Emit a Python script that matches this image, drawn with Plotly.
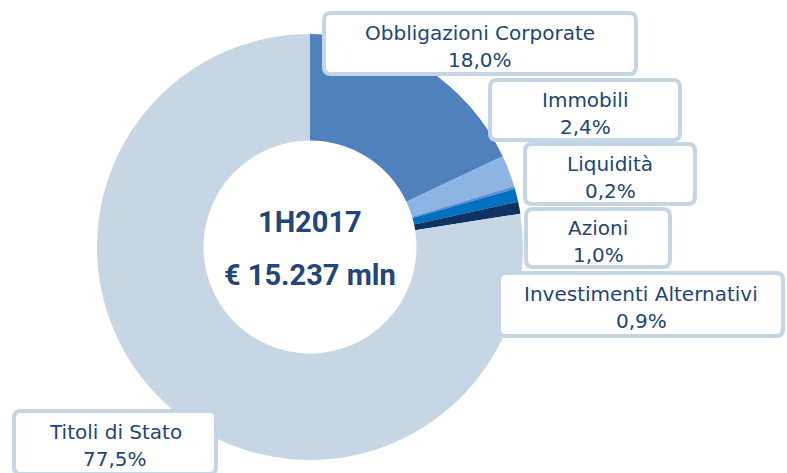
import plotly.graph_objects as go

# data (1H2017 asset allocation)
labels = ["Obbligazioni Corporate", "Immobili", "Liquidità", "Azioni",
          "Investimenti Alternativi", "Titoli di Stato"]
values = [18.0, 2.4, 0.2, 1.0, 0.9, 77.5]
colors = ["#4F81BD", "#8DB4E2", "#5E8FD3", "#0070C0", "#0E3262", "#C6D6E5"]
center_title = "1H2017"
center_total = "€ 15.237 mln"

W, H = 787, 473

# label boxes in pixels (left, top, right, bottom), one per slice
boxes = [
    (322, 11, 638, 76),
    (488, 78, 682, 142),
    (523, 142, 697, 206),
    (524, 207, 672, 269),
    (497, 271, 785, 338),
    (12, 409, 218, 476),
]

TEXT = "#22467C"
BORDER = "#C5D5E4"


def px(x):
    return x / W


def py(y):
    return 1 - y / H


def rounded_box(x0, y0, x1, y1, r=7, inset=2):
    x0, y0, x1, y1 = x0 + inset, y0 + inset, x1 - inset, y1 - inset
    p = [
        f"M {px(x0 + r)} {py(y0)}",
        f"L {px(x1 - r)} {py(y0)}",
        f"Q {px(x1)} {py(y0)} {px(x1)} {py(y0 + r)}",
        f"L {px(x1)} {py(y1 - r)}",
        f"Q {px(x1)} {py(y1)} {px(x1 - r)} {py(y1)}",
        f"L {px(x0 + r)} {py(y1)}",
        f"Q {px(x0)} {py(y1)} {px(x0)} {py(y1 - r)}",
        f"L {px(x0)} {py(y0 + r)}",
        f"Q {px(x0)} {py(y0)} {px(x0 + r)} {py(y0)}",
        "Z",
    ]
    return " ".join(p)


fig = go.Figure(go.Pie(
    labels=labels,
    values=values,
    hole=0.5,
    sort=False,
    direction="clockwise",
    rotation=0,
    marker=dict(colors=colors, line=dict(width=0)),
    textinfo="none",
    domain=dict(x=[px(97), px(523)], y=[py(460), py(34)]),
))

shapes = []
annotations = []
for lab, val, (x0, y0, x1, y1) in zip(labels, values, boxes):
    shapes.append(dict(type="path", path=rounded_box(x0, y0, x1, y1),
                       xref="paper", yref="paper", layer="above",
                       fillcolor="white", line=dict(color=BORDER, width=4)))
    cx = (x0 + x1) / 2
    cy = (y0 + min(y1, y0 + 66)) / 2 + 3
    val_txt = f"{val:.1f}%".replace(".", ",")
    for txt, yy in ((lab, cy - 13.5), (val_txt, cy + 13.5)):
        annotations.append(dict(text=txt, x=px(cx), y=py(yy), xref="paper", yref="paper",
                                showarrow=False, xanchor="center", yanchor="middle",
                                font=dict(family="DejaVu Sans", size=20, color=TEXT)))

for txt, yy in ((center_title, 222), (center_total, 274.5)):
    annotations.append(dict(text=f"<b>{txt}</b>", x=px(310), y=py(yy), xref="paper", yref="paper",
                            showarrow=False, xanchor="center", yanchor="middle",
                            font=dict(family="Roboto", size=29, color=TEXT)))

fig.update_layout(
    width=W, height=H,
    margin=dict(l=0, r=0, t=0, b=0),
    paper_bgcolor="white",
    plot_bgcolor="white",
    showlegend=False,
    shapes=shapes,
    annotations=annotations,
)

# page body has a default 8px margin; drop it so the figure fills the window
fig.write_html("out.html", config={"displayModeBar": False},
               post_script="document.body.style.margin='0';")
